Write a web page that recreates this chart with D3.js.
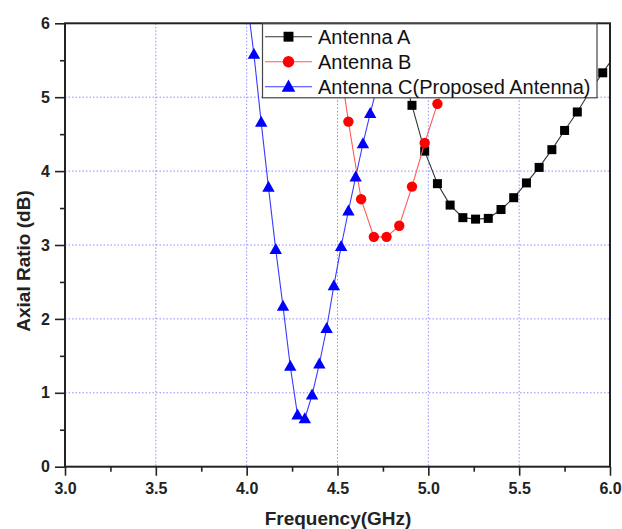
<!DOCTYPE html>
<html><head><meta charset="utf-8">
<script src="https://cdn.jsdelivr.net/npm/d3@7"></script>
<style>
html,body{margin:0;padding:0;background:#fff;}
svg{display:block;font-family:"Liberation Sans",Arial,sans-serif;}
</style></head>
<body>
<svg id="chart" width="622" height="529"></svg>
<script>
// ---- data ----
const freqA = [4.84, 4.91, 4.98, 5.05, 5.12, 5.19, 5.26, 5.33, 5.40, 5.47, 5.54, 5.61, 5.68, 5.75, 5.82, 5.89, 5.96, 6.03];
const arA   = [5.50, 4.89, 4.27, 3.83, 3.54, 3.37, 3.35, 3.36, 3.48, 3.64, 3.84, 4.05, 4.29, 4.55, 4.80, 5.08, 5.33, 5.58];
const freqB = [4.49, 4.56, 4.63, 4.70, 4.77, 4.84, 4.91, 4.98, 5.05, 5.12];
const arB   = [5.85, 4.67, 3.62, 3.11, 3.11, 3.26, 3.79, 4.38, 4.91, 5.45];
const freqC = [4.00, 4.04, 4.08, 4.12, 4.16, 4.20, 4.24, 4.28, 4.32, 4.36, 4.40, 4.44, 4.48, 4.52, 4.56, 4.60, 4.64, 4.68, 4.72];
const arC   = [6.36, 5.58, 4.66, 3.78, 2.94, 2.17, 1.36, 0.70, 0.65, 0.97, 1.39, 1.87, 2.45, 2.98, 3.46, 3.92, 4.37, 4.78, 5.16];
const seriesNames = ["Antenna A", "Antenna B", "Antenna C(Proposed Antenna)"];
const xTicks = [3.0, 3.5, 4.0, 4.5, 5.0, 5.5, 6.0];
const yTicks = [0, 1, 2, 3, 4, 5, 6];
const xLabel = "Frequency(GHz)";
const yLabel = "Axial Ratio (dB)";

const svg = d3.select("#chart");
const L = 65, R = 610, T = 23.3, B = 466.7;
const x = d3.scaleLinear().domain([3, 6]).range([L, R]);
const y = d3.scaleLinear().domain([0, 6]).range([B, T]);

const series = [
  {name: seriesNames[0], f: freqA, v: arA, line: "#333333", mark: "#000000", shape: "square"},
  {name: seriesNames[1], f: freqB, v: arB, line: "#ff5a5a", mark: "#ff0000", shape: "circle"},
  {name: seriesNames[2], f: freqC, v: arC, line: "#3a3aff", mark: "#0000ff", shape: "triangle"}
];

svg.append("defs").append("clipPath").attr("id", "clip")
  .append("rect").attr("x", L).attr("y", T).attr("width", R - L).attr("height", B - T);

// grid
const grid = svg.append("g").attr("stroke", "#8c8cff").attr("stroke-width", 1).attr("stroke-dasharray", "1.5,2");
grid.selectAll(".gx").data(xTicks.filter(d => d > 3 && d < 6)).enter().append("line")
  .attr("x1", d => x(d)).attr("x2", d => x(d)).attr("y1", T).attr("y2", B);
grid.selectAll(".gy").data(yTicks.filter(d => d > 0 && d < 6)).enter().append("line")
  .attr("y1", d => y(d)).attr("y2", d => y(d)).attr("x1", L).attr("x2", R);

function drawMarker(g, shape, color, cx, cy, scale) {
  const s = scale || 1;
  if (shape === "square") {
    const h = 4.5 * s;
    g.append("rect").attr("x", cx - h).attr("y", cy - h).attr("width", 2 * h).attr("height", 2 * h).attr("fill", color);
  } else if (shape === "circle") {
    g.append("circle").attr("cx", cx).attr("cy", cy).attr("r", 5.2 * s).attr("fill", color);
  } else {
    const w = 6.2 * s, hUp = 6.5 * s, hDn = 4.5 * s;
    g.append("path").attr("d", `M${cx},${cy - hUp}L${cx + w},${cy + hDn}L${cx - w},${cy + hDn}Z`).attr("fill", color);
  }
}

const plot = svg.append("g").attr("clip-path", "url(#clip)");
const lineGen = d3.line().x(d => x(d[0])).y(d => y(d[1]));
series.forEach(s => {
  const pts = s.f.map((f, i) => [f, s.v[i]]);
  plot.append("path").datum(pts).attr("d", lineGen).attr("fill", "none").attr("stroke", s.line).attr("stroke-width", 1.1);
  const mg = plot.append("g");
  pts.forEach(p => drawMarker(mg, s.shape, s.mark, x(p[0]), y(p[1])));
});

// axes
const axisColor = "#222";
const xAxis = svg.append("g").attr("transform", `translate(0,${B})`)
  .call(d3.axisBottom(x).tickValues(xTicks).tickFormat(d3.format(".1f")).tickSize(9).tickPadding(7));
const xMinor = svg.append("g").attr("transform", `translate(0,${B})`)
  .call(d3.axisBottom(x).tickValues(d3.range(3.25, 6, 0.5)).tickFormat("").tickSize(5));
const yAxis = svg.append("g").attr("transform", `translate(${L},0)`)
  .call(d3.axisLeft(y).tickValues(yTicks).tickFormat(d3.format("d")).tickSize(10).tickPadding(5));
const yMinor = svg.append("g").attr("transform", `translate(${L},0)`)
  .call(d3.axisLeft(y).tickValues(d3.range(0.5, 6, 1)).tickFormat("").tickSize(5));
[xAxis, xMinor, yAxis, yMinor].forEach(a => {
  a.select(".domain").remove();
  a.selectAll(".tick line").attr("stroke", axisColor).attr("stroke-width", 1.6);
  a.selectAll("text").attr("fill", "#222").attr("font-size", 16).attr("font-weight", "bold")
    .attr("font-family", "'Liberation Sans', Arial, sans-serif");
});

// frame
svg.append("rect").attr("x", L).attr("y", T).attr("width", R - L).attr("height", B - T)
  .attr("fill", "none").attr("stroke", axisColor).attr("stroke-width", 2);

// legend
const lg = svg.append("g");
lg.append("rect").attr("x", 262.5).attr("y", T + 0.5).attr("width", 334.5).attr("height", 74)
  .attr("fill", "#fff").attr("stroke", "#444").attr("stroke-width", 1.2);
series.forEach((s, i) => {
  const cy = 36.7 + i * 25;
  lg.append("line").attr("x1", 265).attr("x2", 312).attr("y1", cy).attr("y2", cy).attr("stroke", s.line).attr("stroke-width", 1.1);
  drawMarker(lg, s.shape, s.mark, 288.5, cy, 1.1);
  lg.append("text").attr("x", 318).attr("y", cy + 7).attr("font-size", 20).attr("fill", "#111").text(s.name);
});

// axis titles
svg.append("text").attr("x", (L + R) / 2 + 0.5).attr("y", 525).attr("text-anchor", "middle")
  .attr("font-size", 19).attr("font-weight", "bold").attr("fill", "#222").text(xLabel);
svg.append("text").attr("transform", `translate(30,${(T + B) / 2 + 16}) rotate(-90)`).attr("text-anchor", "middle")
  .attr("font-size", 19).attr("font-weight", "bold").attr("fill", "#222").text(yLabel);
</script>
</body></html>
